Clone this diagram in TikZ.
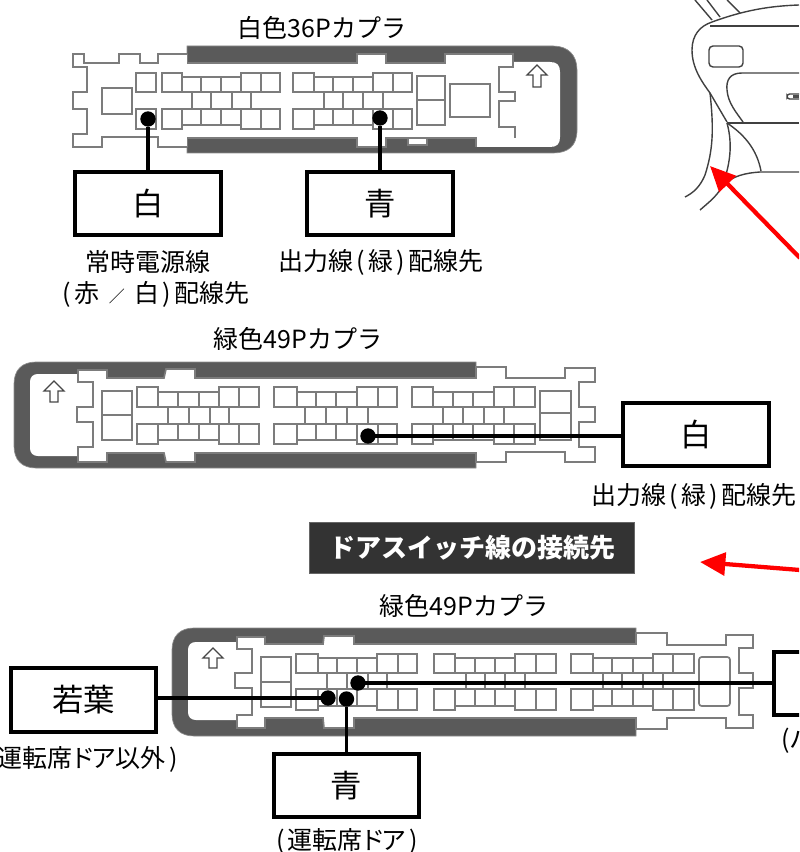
\documentclass[tikz,border=0pt]{standalone}
\usepackage{fontspec}
\setmainfont{Noto Sans CJK JP}
\usetikzlibrary{arrows.meta}
\definecolor{gl}{HTML}{7C7C7C}
\definecolor{band}{HTML}{5A5A5A}
\definecolor{plate}{HTML}{333333}
\newcommand\drawgroups[1]{%
 \foreach \a/\b/\c/\d/\e/\f/\g/\ma/\mb/\mc/\md in {#1}{%
  \foreach \t/\u in {\ya/\yc,\yd/\yf}{%
   \draw[pin] (\a,\t) rectangle (\b,\u);
   \draw[pin] (\e,\t) rectangle (\f,\u);
   \draw[pin] (\f,\t) rectangle (\g,\u);
  }
  \draw[pin] (\b,\yb) rectangle (\e,\yc);
  \draw[pin] (\b,\yd) rectangle (\e,\ye);
  \foreach \v in {\c,\d}{
   \draw[pin] (\v,\yb) -- (\v,\yc);
   \draw[pin] (\v,\yd) -- (\v,\ye);
  }
  \foreach \v in {\ma,\mb,\mc,\md}{\draw[pin] (\v,\yc) -- (\v,\yd);}
 }}
\newcommand\upmark[3]{\draw[pin,draw=black!72,line width=1pt,fill=white] (#1,#2) -- ++(10,10) -- ++(-6,0) -- (#1+4,#3) -- (#1-4,#3) -- (#1-4,#2+10) -- ++(-6,0) -- cycle;}
\newcommand\wiredest{出力線\kern2.5pt(\kern2.5pt緑\kern2.5pt)\kern2.5pt配線先}
\tikzset{
 pin/.style={draw=gl,line width=1.25pt},
 bandfill/.style={fill=band,draw=black!45,line width=.5pt},
 wirebox/.style={draw=black,line width=3pt,minimum width=109pt,minimum height=47.5pt,inner sep=0pt,font=\fontsize{23.5}{27}\selectfont,fill=white},
 dotmark/.style={circle,fill=black,minimum size=11.5pt,inner sep=0pt},
 wire/.style={draw=black,line width=2.6pt},
 captext/.style={font=\fontsize{18.75}{22}\selectfont,inner sep=0pt},
 redarrow/.style={draw=red,line width=3.2pt,-{Triangle[length=19pt,width=17pt]}},
 carline/.style={draw=black!75,line width=1.05pt},
}
\begin{document}
\begin{tikzpicture}[x=.75pt,y=-.75pt]
\useasboundingbox (0,0) rectangle (799,852);
\clip (0,0) rectangle (799,852);
% ---------- car illustration
\draw[carline] (799,5) .. controls (770,6) and (745,10) .. (712,22) .. controls (700,26) and (692,35) .. (692,50) .. controls (692,68) and (702,82) .. (710,93) -- (727,122);
\draw[carline] (710,26) -- (799,26);
\draw[carline] (695,0) -- (712,20);
\draw[carline] (707,0) -- (720,17);
\draw[carline] (727,0) -- (740,13);
\draw[carline,rounded corners=3pt] (709,46) rectangle (743,67);
\draw[carline] (799,73) -- (742,73) .. controls (730,73) and (726,80) .. (727,90) .. controls (728,103) and (736,112) .. (743,122);
\draw[carline] (727,123) -- (799,123);
\draw[carline,rounded corners=2pt] (787,94) rectangle (805,99);
\fill[black!70] (793,95) rectangle (799,98);
\draw[carline] (710,93) .. controls (714,130) and (713,150) .. (705,175) .. controls (700,187) and (693,193) .. (685,197);
\draw[carline] (727,123) .. controls (733,145) and (730,165) .. (722,187) .. controls (716,197) and (708,203) .. (700,210);
\draw[carline] (727,123) .. controls (745,135) and (757,150) .. (761,171);
\draw[carline] (799,172) -- (760,172) .. controls (745,173) and (733,176) .. (723,185);
% ---------- white 36P connector
\draw[bandfill] (187,46) -- (553,46) .. controls (568,46) and (577,55) .. (577,70) -- (577,130) .. controls (577,146) and (568,153) .. (553,153) -- (187,153) -- cycle;
\path[fill=white] (73,54) -- (187,54) -- (187,63) -- (357,63) -- (357,54) -- (386,54) -- (386,63) -- (445,63) -- (445,54) -- (513,54) -- (513,62) -- (550,62) .. controls (557,62) and (560,65) .. (560,72) -- (560,137) .. controls (560,144) and (557,147) .. (550,147) -- (476,147) -- (476,138) -- (386,138) -- (386,147) -- (357,147) -- (357,138) -- (187,138) -- (187,147) -- (73,147) -- cycle;
\draw[pin] (187,54) -- (158,54) -- (158,63) -- (140,63) -- (140,54) -- (119,54) -- (119,63) -- (84,63) -- (84,54) -- (73,54) -- (73,67) -- (87,67) -- (87,92) -- (73,92) -- (73,109) -- (87,109) -- (87,134) -- (73,134) -- (73,147) -- (102,147) -- (102,137) -- (158,137) -- (158,147) -- (187,147);
\draw[pin] (187,63) -- (357,63) -- (357,54) -- (386,54) -- (386,63) -- (445,63) -- (445,54) -- (513,54) -- (513,67) -- (499,67) -- (499,92) -- (515,92) -- (515,101) -- (499,101) -- (499,127) -- (515,127) -- (515,138);
\draw[pin] (187,138) -- (357,138) -- (357,147) -- (386,147) -- (386,138) -- (476,138) -- (476,147);
\draw[pin,fill=white] (408,138) rectangle (427,145);
\draw[pin] (136,73) rectangle (156,92);
\draw[pin] (136,109) rectangle (156,129);
\draw[pin] (102,88) rectangle (132,114);
\draw[pin] (417,76) rectangle (445,100);
\draw[pin] (417,100) rectangle (445,125);
\draw[pin] (450,84) rectangle (490,117);
\def\ya{73}\def\yb{77}\def\yc{92}\def\yd{109}\def\ye{125}\def\yf{129}
\drawgroups{162/182/201/221/241/261/280/192/211/232/251,293/314/333/353/373/393/412/324/343/363/383}
\upmark{537}{65}{87}
% ---------- green 49P connector (upper)
\draw[bandfill] (476,362) -- (36,362) .. controls (22,362) and (14,370) .. (14,384) -- (14,446) .. controls (14,460) and (22,468) .. (36,468) -- (476,468) -- cycle;
\path[fill=white] (78,370) -- (107,370) -- (107,378) -- (164,378) -- (166,369) -- (195,369) -- (195,378) -- (476,378) -- (476,367) -- (595,367) -- (595,462) -- (476,462) -- (476,453) -- (195,453) -- (195,462) -- (166,462) -- (164,453) -- (107,453) -- (107,462) -- (78,462) -- (78,456) -- (38,456) .. controls (33,456) and (30,453) .. (30,448) -- (30,382) .. controls (30,377) and (33,374) .. (38,374) -- (78,374) -- cycle;
\draw[pin] (78,374) -- (78,370) -- (107,370) -- (107,378) -- (164,378) -- (166,369) -- (195,369) -- (195,378) -- (476,378) -- (476,367) -- (506,367) -- (506,378) -- (565,378) -- (565,368) -- (595,368) -- (595,382) -- (579,382) -- (579,407) -- (595,407) -- (595,422) -- (579,422) -- (579,447) -- (595,447) -- (595,462) -- (565,462) -- (565,452) -- (506,452) -- (506,462) -- (476,462) -- (476,453) -- (195,453) -- (195,462) -- (166,462) -- (164,453) -- (107,453) -- (107,462) -- (78,462) -- (78,447) -- (93,447) -- (93,422) -- (77,422) -- (77,407) -- (93,407) -- (93,382) -- (78,382) -- (78,374);
\draw[pin] (102,391) rectangle (132,415);
\draw[pin] (102,415) rectangle (132,440);
\draw[pin] (540,391) rectangle (571,413);
\draw[pin] (540,413) rectangle (571,440);
\def\ya{387}\def\yb{392}\def\yc{407}\def\yd{424}\def\ye{440}\def\yf{444}
\drawgroups{137/158/178/199/219/239/259/168/189/210/229,274/297/316/336/357/378/397/305/326/347/368,412/433/453/473/494/514/535/443/463/484/504}
\upmark{54}{381}{402}
% ---------- green 49P connector (lower)
\draw[bandfill] (636,628) -- (194,628) .. controls (180,628) and (172,636) .. (172,650) -- (172,714) .. controls (172,728) and (180,736) .. (194,736) -- (636,736) -- cycle;
\path[fill=white] (237,637) -- (265,637) -- (265,644) -- (323,644) -- (324,636) -- (354,636) -- (354,644) -- (636,644) -- (636,633) -- (753,633) -- (753,729) -- (636,729) -- (636,718) -- (354,718) -- (354,728) -- (324,728) -- (323,718) -- (265,718) -- (265,728) -- (237,728) -- (237,720) -- (196,720) .. controls (191,720) and (188,717) .. (188,712) -- (188,650) .. controls (188,645) and (191,642) .. (196,642) -- (237,642) -- cycle;
\draw[pin] (237,642) -- (237,637) -- (265,637) -- (265,644) -- (323,644) -- (324,636) -- (354,636) -- (354,644) -- (636,644) -- (636,633) -- (667,633) -- (667,645) -- (726,645) -- (726,635) -- (753,635) -- (753,648) -- (739,648) -- (739,673) -- (753,673) -- (753,688) -- (739,688) -- (739,715) -- (753,715) -- (753,728) -- (726,728) -- (726,718) -- (667,718) -- (667,729) -- (636,729) -- (636,718) -- (354,718) -- (354,728) -- (324,728) -- (323,718) -- (265,718) -- (265,728) -- (237,728) -- (237,715) -- (252,715) -- (252,688) -- (235,688) -- (235,673) -- (252,673) -- (252,649) -- (237,649) -- (237,642);
\draw[pin] (261,657) rectangle (291,682);
\draw[pin] (261,682) rectangle (291,707);
\draw[pin,rounded corners=2pt] (699,657) rectangle (730,706);
\def\ya{654}\def\yb{658}\def\yc{673}\def\yd{689}\def\ye{706}\def\yf{710}
\drawgroups{296/318/337/357/377/398/417/327/347/368/387,434/455/475/495/515/536/556/466/485/505/525,571/593/612/633/653/673/694/603/622/643/663}
\upmark{213}{648}{668}
% ---------- captions
\node[captext] (t1) at (322,28) {白色36Pカプラ};
\node[captext] (t2) at (298,339) {緑色49Pカプラ};
\node[captext] (t3) at (464,606) {緑色49Pカプラ};
\node[captext] (c1) at (148,262) {常時電源線};
\node[captext] (c2) at (156,294) {(\kern2.5pt赤\kern7pt{\fontsize{12}{12}\selectfont ／}\kern7pt白\kern2.5pt)\kern2.5pt配線先};
\node[captext] (c3) at (381,262) {\wiredest};
\node[captext] (c4) at (694,496) {\wiredest};
\node[captext,anchor=east] (c5) at (178,759) {(運転席\kern-1.5ptド\kern-3ptア\kern-1pt以外\kern3pt)};
\node[captext] (c6) at (347,841) {(\kern2pt運転席\kern-1.5ptド\kern-3ptア\kern2pt)};
\node[captext,anchor=west] (c7) at (781,741) {(ハ};
% ---------- plate
\node[draw=black!60,fill=plate,line width=.8pt,minimum width=244pt,minimum height=38.5pt,inner sep=0pt,text=white,font=\fontsize{19.5}{24}\selectfont\bfseries] (plate) at (472,548) {ドアスイッチ線の接続先};
% ---------- boxes
\node[wirebox] (b1) at (148,203.5) {白};
\node[wirebox] (b2) at (380,203.5) {青};
\node[wirebox] (b3) at (696,434.5) {白};
\node[wirebox] (b4) at (83.5,700) {若葉};
\node[wirebox] (b5) at (346.5,785.5) {青};
\node[wirebox,anchor=west] (b6) at (772,683.5) {};
% ---------- dots and wires
\node[dotmark] (d1) at (148,119) {};
\node[dotmark] (d2) at (380,118) {};
\node[dotmark] (d3) at (368,436) {};
\node[dotmark] (d4) at (358,683) {};
\node[dotmark] (d5) at (328,698) {};
\node[dotmark] (d6) at (346.5,699) {};
\draw[wire] (d1) -- (b1);
\draw[wire] (d2) -- (b2);
\draw[wire] (d3.center) -- (d3.center -| b3.west);
\draw[wire] (d4.center) -- (d4.center -| b6.west);
\draw[wire] (d5.center) -- (d5.center -| b4.east);
\draw[wire] (d6) -- (b5);
% ---------- red arrows
\coordinate (r1s) at (800,258);
\coordinate (r1e) at (710,166);
\coordinate (r2s) at (800,570);
\coordinate (r2e) at (700,562);
\draw[redarrow] (r1s) -- (r1e);
\draw[redarrow] (r2s) -- (r2e);
\end{tikzpicture}
\end{document}
